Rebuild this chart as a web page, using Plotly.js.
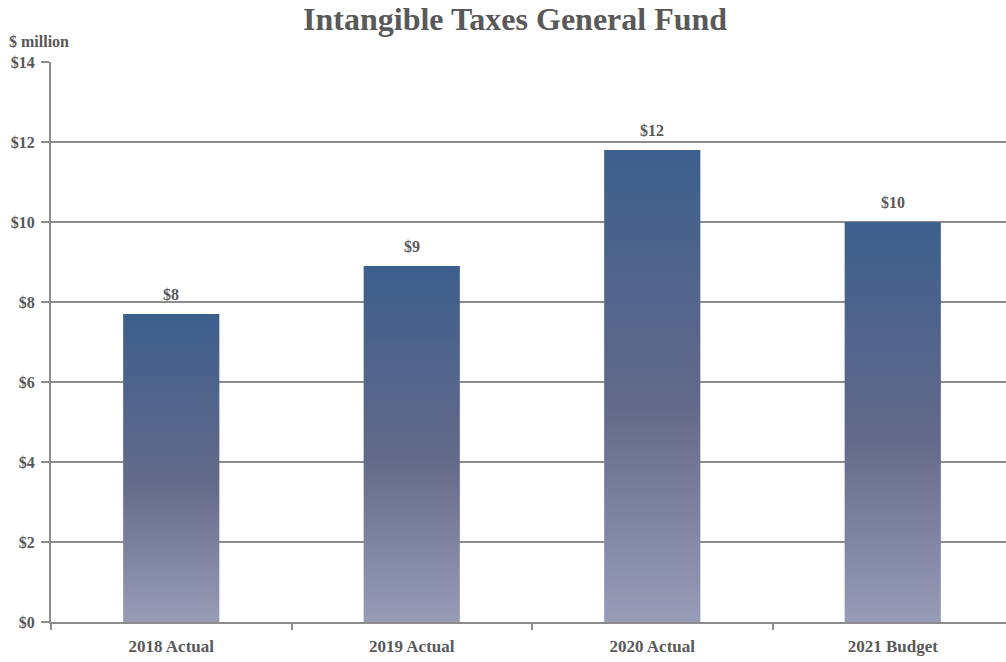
<!DOCTYPE html>
<html>
<head>
<meta charset="utf-8">
<script src="https://cdn.plot.ly/plotly-3.0.1.min.js"></script>
<style>
html,body{margin:0;padding:0;overflow:hidden;background:#fff;}
#chart{width:1020px;height:662px;}
</style>
</head>
<body>
<div id="chart"></div>
<script>
const categories = ["2018 Actual", "2019 Actual", "2020 Actual", "2021 Budget"];
const values = [7.7, 8.9, 11.8, 10.0];
const yTickVals = [0, 2, 4, 6, 8, 10, 12, 14];
const yTickText = ["$0", "$2", "$4", "$6", "$8", "$10", "$12", "$14"];
const chartTitle = "Intangible Taxes General Fund";
const yUnit = "$ million";

const FONT = "Liberation Serif, Times New Roman, serif";
const TXT = "#595959";
const GRID = "#8c8c8c";

const trace = {
  type: "bar",
  x: categories,
  y: values,
  width: 0.4,
  marker: {color: "#5a6688", line: {width: 0}},
  hoverinfo: "skip"
};

const labelAnnotations = categories.map((c, i) => ({
  x: c, y: values[i], xref: "x", yref: "y",
  text: "$" + Math.round(values[i]),
  showarrow: false, xanchor: "center", yanchor: "bottom", yshift: 9,
  font: {family: FONT, size: 16, color: TXT, weight: "bold"}
}));

const layout = {
  width: 1020,
  height: 662,
  autosize: false,
  margin: {l: 51, r: 7, t: 62, b: 40},
  paper_bgcolor: "#fff",
  plot_bgcolor: "#fff",
  showlegend: false,
  title: {
    text: chartTitle,
    font: {family: FONT, size: 32, color: TXT, weight: "bold"},
    x: 0.505, xanchor: "center", y: 0.972, yanchor: "middle"
  },
  xaxis: {
    type: "category",
    tickson: "boundaries",
    ticks: "outside",
    ticklen: 6,
    tickwidth: 2,
    tickcolor: GRID,
    showline: true,
    linecolor: GRID,
    linewidth: 2,
    showgrid: false,
    tickfont: {family: FONT, size: 17, color: TXT, weight: "bold"},
    ticklabelstandoff: 8,
    fixedrange: true
  },
  yaxis: {
    range: [0, 14],
    tickvals: yTickVals,
    ticktext: yTickText,
    ticks: "outside",
    ticklen: 8,
    tickwidth: 2,
    tickcolor: GRID,
    showline: true,
    linecolor: GRID,
    linewidth: 2,
    showgrid: true,
    gridcolor: GRID,
    gridwidth: 2,
    zeroline: false,
    tickfont: {family: FONT, size: 16, color: TXT, weight: "bold"},
    ticklabelstandoff: 3,
    fixedrange: true
  },
  annotations: [{
    text: yUnit,
    xref: "paper", yref: "paper",
    x: -0.046, y: 1.036,
    xanchor: "left", yanchor: "middle",
    showarrow: false,
    font: {family: FONT, size: 16, color: TXT, weight: "bold"}
  }].concat(labelAnnotations)
};

Plotly.newPlot("chart", [trace], layout, {displayModeBar: false, staticPlot: true}).then(gd => {
  const svg = gd.querySelector("svg.main-svg");
  const ns = "http://www.w3.org/2000/svg";
  let defs = svg.querySelector("defs");
  if (!defs) { defs = document.createElementNS(ns, "defs"); svg.insertBefore(defs, svg.firstChild); }
  const grad = document.createElementNS(ns, "linearGradient");
  grad.setAttribute("id", "barGrad");
  grad.setAttribute("x1", "0"); grad.setAttribute("y1", "0");
  grad.setAttribute("x2", "0"); grad.setAttribute("y2", "1");
  [["0", "#3d5f8d"], ["0.55", "#646a89"], ["1", "#989cb7"]].forEach(([o, c]) => {
    const s = document.createElementNS(ns, "stop");
    s.setAttribute("offset", o); s.setAttribute("stop-color", c);
    grad.appendChild(s);
  });
  defs.appendChild(grad);
  gd.querySelectorAll(".barlayer .point path").forEach(p => {
    p.style.fill = "url(#barGrad)";
  });
});
</script>
</body>
</html>
